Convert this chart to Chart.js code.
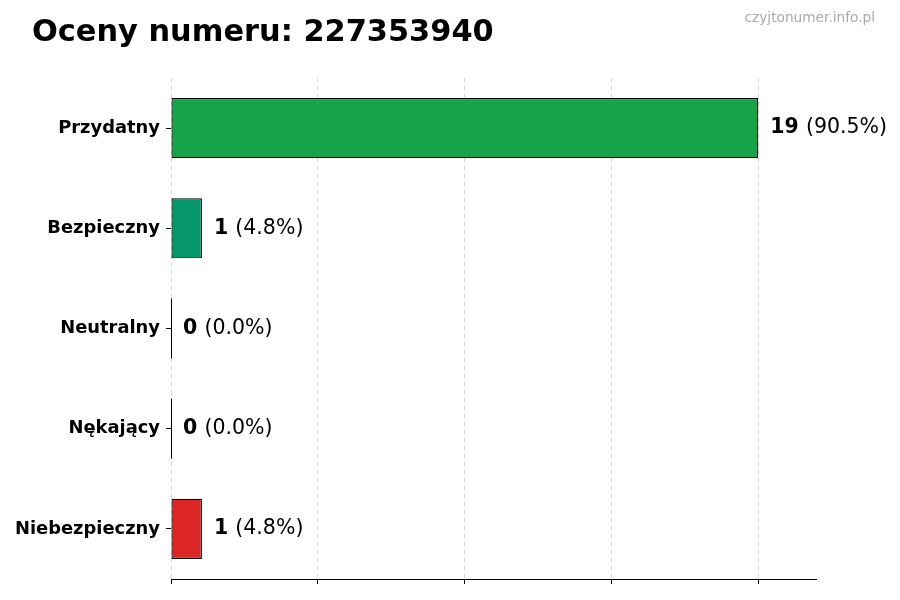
<!DOCTYPE html>
<html>
<head>
<meta charset="utf-8">
<script src="https://cdn.jsdelivr.net/npm/chart.js@4/dist/chart.umd.min.js"></script>
<style>
  html, body { margin: 0; padding: 0; background: #fff; }
  #wrap { width: 900px; height: 600px; position: relative; }
</style>
</head>
<body>
<div id="wrap"><canvas id="ratingsChart"></canvas></div>
<script>
const titleText = "Oceny numeru: 227353940";
const watermark = "czyjtonumer.info.pl";
const categories = ["Przydatny", "Bezpieczny", "Neutralny", "Nękający", "Niebezpieczny"];
const counts = [19, 1, 0, 0, 1];
const barColors = ["#17a34a", "#059669", "#9ca3af", "#f97316", "#dc2626"];

const FONT = "'DejaVu Sans', sans-serif";
const total = counts.reduce((a, b) => a + b, 0);
const maxVal = Math.max(...counts);

// titles, solid bottom spine + value labels, drawn on top of the chart
const labelsPlugin = {
  id: "labels",
  afterDatasetsDraw(chart) {
    const ctx = chart.ctx;
    const meta = chart.getDatasetMeta(0);
    const area = chart.chartArea;
    ctx.save();

    ctx.strokeStyle = "#000";
    ctx.lineWidth = 1;
    ctx.setLineDash([]);
    ctx.beginPath();
    ctx.moveTo(area.left, area.bottom + 0.5);
    ctx.lineTo(area.right, area.bottom + 0.5);
    ctx.stroke();

    meta.data.forEach((bar, i) => {
      const v = counts[i];
      if (v === 0) {
        // matplotlib still draws the edge of an empty bar
        ctx.beginPath();
        ctx.moveTo(bar.base + 0.5, bar.y - bar.height / 2);
        ctx.lineTo(bar.base + 0.5, bar.y + bar.height / 2);
        ctx.stroke();
      }
      const x = bar.x + 12;
      ctx.textBaseline = "middle";
      ctx.fillStyle = "#000";
      ctx.font = "bold 20.5px " + FONT;
      const num = String(v);
      ctx.fillText(num, x, bar.y);
      const w = ctx.measureText(num + " ").width;
      ctx.font = "20.5px " + FONT;
      ctx.fillText("(" + (v / total * 100).toFixed(1) + "%)", x + w, bar.y);
    });

    ctx.textBaseline = "alphabetic";
    ctx.font = "bold 30.4px " + FONT;
    ctx.fillStyle = "#000";
    ctx.fillText(titleText, 32, 41);

    ctx.font = "13.7px " + FONT;
    ctx.fillStyle = "#aaaaaa";
    ctx.textAlign = "right";
    ctx.fillText(watermark, 875, 22);
    ctx.restore();
  }
};

const data = {
  labels: categories,
  datasets: [{
    data: counts,
    backgroundColor: barColors,
    borderColor: "#000",
    borderWidth: 1.2,
    borderSkipped: false,
    categoryPercentage: 1,
    barPercentage: 0.6
  }]
};

const options = {
  indexAxis: "y",
  responsive: false,
  animation: false,
  layout: { padding: { top: 78, right: 83, bottom: 16, left: 0 } },
  plugins: {
    legend: { display: false },
    tooltip: { enabled: false },
    title: { display: false }
  },
  scales: {
    x: {
      min: 0,
      max: maxVal * 1.1,
      afterBuildTicks: (scale) => {
        scale.ticks = [0, 1, 2, 3, 4].map(k => ({ value: maxVal * k / 4 }));
      },
      ticks: { display: false },
      grid: {
        color: "#d9d9d9",
        tickColor: "#000",
        tickBorderDash: [],
        tickLength: 5,
        lineWidth: 1
      },
      border: { display: false, dash: [5, 3] }
    },
    y: {
      afterFit: (scale) => { scale.width = 171; },
      ticks: {
        color: "#000",
        font: { family: FONT, size: 17.9, weight: "bold" },
        padding: 6
      },
      grid: {
        offset: false,
        drawOnChartArea: false,
        tickColor: "#000",
        tickLength: 5
      },
      border: { display: false }
    }
  }
};

const canvas = document.getElementById("ratingsChart");
canvas.width = 900;
canvas.height = 600;
new Chart(canvas, { type: "bar", data, options, plugins: [labelsPlugin] });
</script>
</body>
</html>
